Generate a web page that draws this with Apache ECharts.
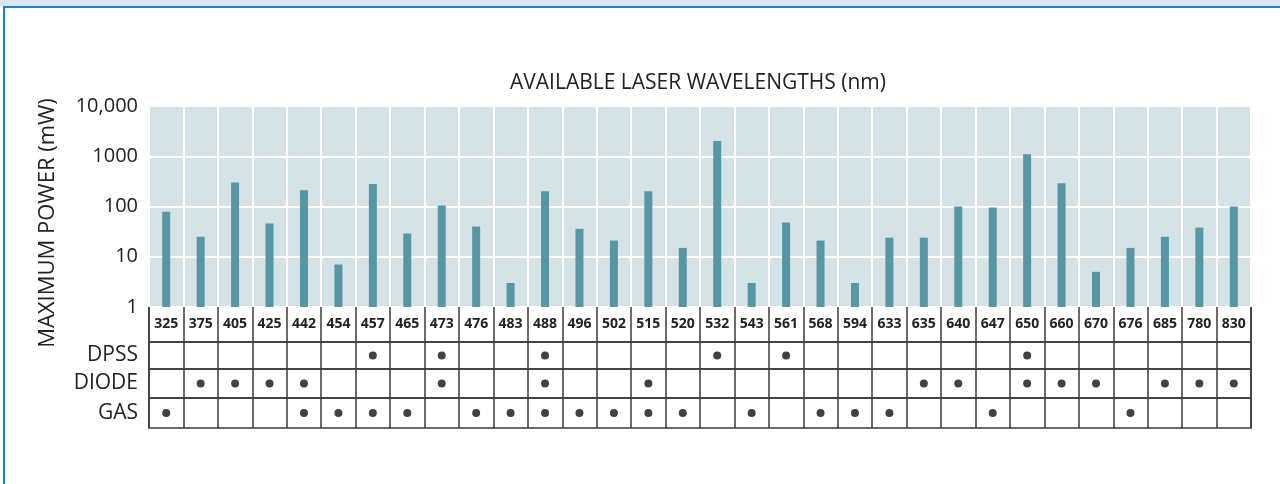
<!DOCTYPE html>
<html>
<head>
<meta charset="utf-8">
<script src="https://cdn.jsdelivr.net/npm/echarts@6/dist/echarts.min.js"></script>
<style>
  html, body { margin: 0; padding: 0; background: #ffffff; }
  #wrap { position: relative; width: 1280px; height: 484px; overflow: hidden; }
  #chart { position: absolute; left: 0; top: 0; width: 1280px; height: 484px; }
  #band { position: absolute; left: 0; top: 0; width: 1280px; height: 6px; background: #dbe5f2; pointer-events: none; }
  #topline { position: absolute; left: 3px; top: 6px; width: 1277px; height: 2px; background: #1a7fcc; pointer-events: none; }
  #leftline { position: absolute; left: 3px; top: 6px; width: 2px; height: 478px; background: #1a7fcc; pointer-events: none; }
</style>
</head>
<body>
<div id="wrap">
  <div id="chart"></div>
  <div id="band"></div>
  <div id="topline"></div>
  <div id="leftline"></div>
</div>
<script>
// ---- data ----
const wavelengths = ['325','375','405','425','442','454','457','465','473','476','483','488','496','502','515','520','532','543','561','568','594','633','635','640','647','650','660','670','676','685','780','830'];
const maxPower = [79, 25, 300, 46, 210, 7, 280, 29, 105, 40, 3, 200, 36, 21, 200, 15, 2000, 3, 48, 21, 3, 24, 24, 100, 95, 1100, 290, 5, 15, 25, 38, 100];
const dpss = ['457','473','488','532','561','650'];
const diode = ['375','405','425','442','473','488','515','635','640','650','660','670','685','780','830'];
const gas = ['325','442','454','457','465','476','483','488','496','502','515','520','543','568','594','633','647','676'];
const rowNames = ['DPSS', 'DIODE', 'GAS'];
const rowSets = [dpss, diode, gas];
const yTicks = ['1', '10', '100', '1000', '10,000'];
const titleText = 'AVAILABLE LASER WAVELENGTHS (nm)';
const yName = 'MAXIMUM POWER (mW)';

// ---- layout ----
const FONT = '"Open Sans", "Noto Sans", sans-serif';
const plotLeft = 149, plotRight = 1251;
const rightGap = 1280 - plotRight;
const barTop = 106, barBottom = 307;
const rowBounds = [[342, 369], [369, 398], [398, 428]];
const lineColor = '#3a3a3a';

const grids = [
  { left: plotLeft, right: rightGap, top: barTop, height: barBottom - barTop, show: true, backgroundColor: '#d5e3e6', borderWidth: 0 },
  { left: plotLeft, right: rightGap, top: barBottom, height: rowBounds[0][0] - barBottom, show: true, borderColor: lineColor, borderWidth: 1.5, backgroundColor: 'transparent' }
];
rowBounds.forEach(b => grids.push({ left: plotLeft, right: rightGap, top: b[0], height: b[1] - b[0], show: true, borderColor: lineColor, borderWidth: 1.5, backgroundColor: 'transparent' }));

const xAxes = [{
  type: 'category', gridIndex: 0, data: wavelengths,
  axisLine: { show: false }, axisTick: { show: false },
  splitLine: { show: true, interval: 0, lineStyle: { color: '#ffffff', width: 2 } },
  axisLabel: { interval: 0, margin: 10, fontFamily: FONT, fontWeight: 'bold', fontSize: 14, color: '#222222' }
}];
for (let i = 1; i <= 4; i++) {
  xAxes.push({
    type: 'category', gridIndex: i, data: wavelengths,
    axisLine: { show: false }, axisTick: { show: false }, axisLabel: { show: false },
    splitLine: { show: true, interval: 0, lineStyle: { color: lineColor, width: 1.5 } }
  });
}

const yAxes = [{
  type: 'log', gridIndex: 0, logBase: 10, min: 1, max: 10000, splitNumber: 4,
  axisLine: { show: false }, axisTick: { show: false },
  splitLine: { show: true, lineStyle: { color: '#ffffff', width: 2 } },
  axisLabel: {
    margin: 11, fontFamily: FONT, fontSize: 20, color: '#222222',
    formatter: v => {
      const idx = Math.round(Math.log10(v));
      return yTicks[idx] !== undefined ? yTicks[idx] : '';
    }
  }
}, {
  type: 'value', gridIndex: 1, min: 0, max: 1,
  axisLine: { show: false }, axisTick: { show: false }, axisLabel: { show: false }, splitLine: { show: false }
}];
rowNames.forEach((n, i) => yAxes.push({
  type: 'category', gridIndex: i + 2, data: [n],
  axisLine: { show: false }, axisTick: { show: false }, splitLine: { show: false },
  axisLabel: { margin: 11, fontFamily: FONT, fontSize: 21, color: '#222222' }
}));

const series = [{
  type: 'bar', xAxisIndex: 0, yAxisIndex: 0, data: maxPower,
  barWidth: 8, itemStyle: { color: '#5597a3' }, silent: true
}];
rowSets.forEach((set, i) => series.push({
  type: 'scatter', xAxisIndex: i + 2, yAxisIndex: i + 2,
  data: set.map(w => [w, rowNames[i]]),
  symbol: 'circle', symbolSize: 8, itemStyle: { color: '#111111' }, silent: true
}));

const chart = echarts.init(document.getElementById('chart'), null, { renderer: 'canvas' });
chart.setOption({
  animation: false,
  backgroundColor: 'transparent',
  grid: grids,
  xAxis: xAxes,
  yAxis: yAxes,
  series: series,
  graphic: [
    { type: 'text', x: 698, y: 83, style: { text: titleText, font: '21px ' + FONT, fill: '#222222', textAlign: 'center', textVerticalAlign: 'middle' } },
    { type: 'text', x: 48, y: 223, rotation: Math.PI / 2, style: { text: yName, font: '22px ' + FONT, fill: '#222222', textAlign: 'center', textVerticalAlign: 'middle' } }
  ]
});
</script>
</body>
</html>
